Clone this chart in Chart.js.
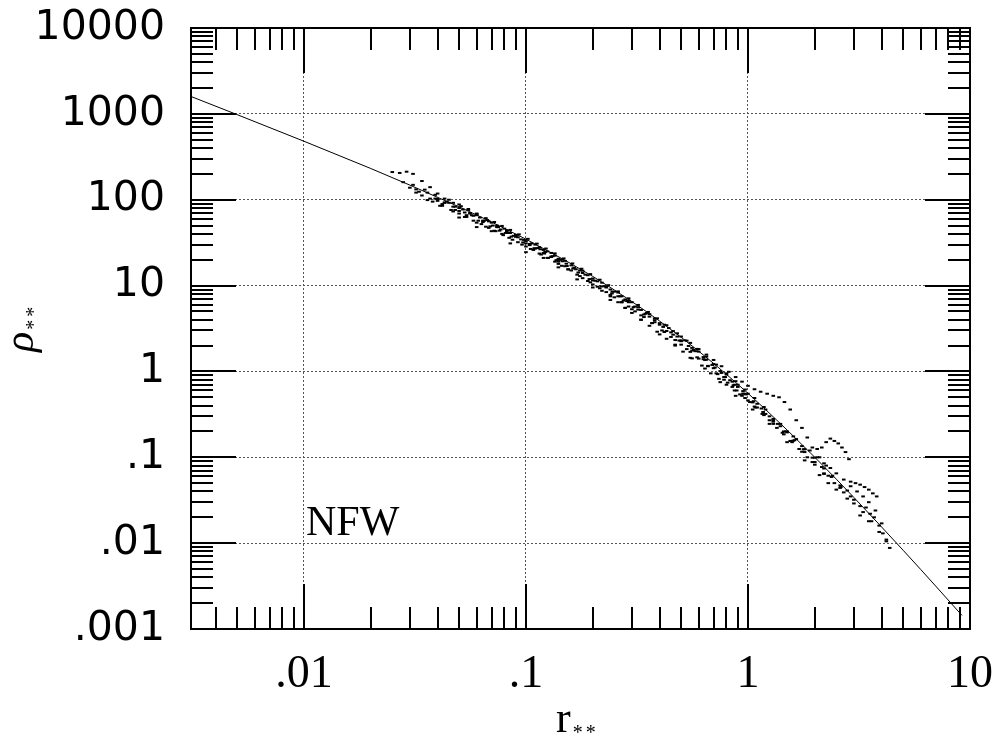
<!DOCTYPE html>
<html>
<head>
<meta charset="utf-8">
<script src="https://cdn.jsdelivr.net/npm/chart.js@4.4.1/dist/chart.umd.min.js"></script>
<style>
  body { margin: 0; background: #fff; }
  #wrap { width: 1002px; height: 740px; }
</style>
</head>
<body>
<div id="wrap"><canvas id="profileChart" width="1002" height="740"></canvas></div>
<script>
// Axis ticks
const xTickValues = [0.01, 0.1, 1, 10];
const xTickLabels = [".01", ".1", "1", "10"];
const yTickValues = [0.001, 0.01, 0.1, 1, 10, 100, 1000, 10000];
const yTickLabels = [".001", ".01", ".1", "1", "10", "100", "1000", "10000"];

// NFW fit curve
const nfwR   = [0.0031, 0.005, 0.01, 0.02, 0.03, 0.05, 0.07, 0.1, 0.15, 0.2, 0.25, 0.3, 0.35, 0.4, 0.5, 0.6, 0.7, 0.85, 1, 1.2, 1.5, 2, 2.5, 3, 4, 5, 6, 7, 9.2];
const nfwRho = [1593, 980, 480, 231, 148, 82.6, 55, 34.7, 19.7, 12.8, 8.89, 6.51, 4.94, 3.86, 2.5, 1.72, 1.24, 0.807, 0.556, 0.36, 0.208, 0.1, 0.0556, 0.034, 0.0154, 0.00826, 0.00493, 0.00317, 0.00144];

// Halo profiles (scattered dots)
const halo1R   = [0.028, 0.032, 0.036, 0.04, 0.044, 0.048, 0.052, 0.056, 0.06, 0.065, 0.07, 0.075, 0.08, 0.085, 0.09, 0.1, 0.11, 0.12, 0.13, 0.14, 0.15, 0.165, 0.18, 0.2, 0.22, 0.24, 0.26, 0.28, 0.3, 0.33, 0.36, 0.4, 0.44, 0.48, 0.52, 0.56, 0.6, 0.65, 0.7, 0.75, 0.8, 0.85, 0.9, 0.95, 1.0, 1.1, 1.2, 1.3, 1.4, 1.5, 1.65, 1.8, 2.0, 2.2, 2.4, 2.6, 2.8, 3.0];
const halo1Rho = [160, 132, 121, 102, 95, 83, 77, 69, 66, 57, 54, 48, 46, 41, 39, 33, 30, 26, 24, 20.5, 19.4, 16.2, 14.9, 12.1, 10.8, 9.0, 8.3, 6.9, 6.4, 5.2, 4.65, 3.65, 3.2, 2.55, 2.3, 1.88, 1.7, 1.37, 1.22, 1.01, 0.92, 0.76, 0.7, 0.59, 0.55, 0.42, 0.36, 0.28, 0.245, 0.195, 0.163, 0.124, 0.099, 0.074, 0.061, 0.047, 0.041, 0.032];

const halo2R   = [0.034, 0.038, 0.042, 0.046, 0.05, 0.054, 0.058, 0.063, 0.068, 0.073, 0.078, 0.084, 0.092, 0.1, 0.108, 0.117, 0.126, 0.135, 0.145, 0.155, 0.17, 0.19, 0.21, 0.23, 0.25, 0.27, 0.29, 0.31, 0.34, 0.37, 0.41, 0.45, 0.5, 0.55, 0.6, 0.66, 0.72, 0.78, 0.85, 0.92, 1.0, 1.08, 1.16, 1.25, 1.35, 1.45, 1.55, 1.7, 1.85, 2.0, 2.2, 2.45, 2.7, 3.0, 3.3, 3.6, 3.9, 4.2];
const halo2Rho = [112, 95, 85, 76, 69, 63, 57, 52, 47, 43, 40, 36, 32, 28.5, 26, 23, 21, 19, 17, 15.5, 13.4, 11.3, 9.7, 8.4, 7.3, 6.4, 5.7, 5.0, 4.3, 3.65, 3.0, 2.52, 2.05, 1.69, 1.41, 1.15, 0.95, 0.8, 0.66, 0.54, 0.46, 0.38, 0.32, 0.27, 0.22, 0.185, 0.155, 0.125, 0.1, 0.082, 0.065, 0.05, 0.039, 0.029, 0.023, 0.018, 0.0135, 0.0105];

const halo3R   = [0.025, 0.027, 0.029, 0.031, 0.034, 0.037, 0.04, 0.045, 0.05, 0.055, 0.06, 0.067, 0.074, 0.082, 0.09, 0.1, 0.11, 0.12, 0.13, 0.14, 0.15, 0.16, 0.18, 0.2, 0.22, 0.24, 0.26, 0.28, 0.3, 0.33, 0.36, 0.39, 0.43, 0.47, 0.51, 0.56, 0.62, 0.68, 0.74, 0.8, 0.87, 0.94, 1.02, 1.1, 1.2, 1.3, 1.4, 1.5, 1.6, 1.75, 1.9, 2.05, 2.2, 2.35, 2.5, 2.7, 2.9, 3.1, 3.3, 3.5, 3.75, 4.0];
const halo3Rho = [210, 205, 212, 200, 165, 140, 118, 100, 88, 78, 68, 58, 50, 43, 37, 31, 27, 24, 21.5, 19, 16.8, 15, 12.2, 10.3, 8.7, 7.5, 6.4, 5.5, 4.8, 4.0, 3.4, 2.9, 2.4, 2.0, 1.7, 1.42, 1.17, 0.95, 0.82, 0.7, 0.6, 0.52, 0.44, 0.38, 0.32, 0.27, 0.23, 0.2, 0.175, 0.135, 0.12, 0.1, 0.085, 0.075, 0.065, 0.055, 0.046, 0.04, 0.035, 0.03, 0.024, 0.017];

const halo4R   = [0.045, 0.05, 0.056, 0.062, 0.068, 0.075, 0.082, 0.09, 0.098, 0.106, 0.115, 0.125, 0.135, 0.145, 0.16, 0.175, 0.19, 0.21, 0.23, 0.25, 0.27, 0.29, 0.32, 0.35, 0.38, 0.42, 0.46, 0.5, 0.55, 0.6, 0.65, 0.7, 0.76, 0.82, 0.88, 0.94, 1.0, 1.07, 1.14, 1.22, 1.3, 1.38, 1.46, 1.55, 1.65, 1.75, 1.85, 1.95, 2.1, 2.25];
const halo4Rho = [92, 80, 70, 62, 56, 48, 44, 38, 34, 31, 28, 25, 22.3, 20.2, 17.2, 15, 13.2, 11.2, 9.8, 8.5, 7.5, 6.7, 5.6, 4.8, 4.15, 3.5, 2.95, 2.55, 2.15, 1.82, 1.57, 1.36, 1.15, 0.99, 0.86, 0.76, 0.68, 0.62, 0.58, 0.55, 0.52, 0.5, 0.44, 0.36, 0.27, 0.22, 0.17, 0.13, 0.1, 0.08];

const halo5R   = [2.05, 2.15, 2.25, 2.35, 2.45, 2.55, 2.65, 2.75, 2.85, 2.9, 3.05, 3.2, 3.35, 3.5, 3.65, 3.8, 3.4, 3.55, 3.7, 3.9, 4.05, 4.2, 4.35];
const halo5Rho = [0.125, 0.13, 0.15, 0.165, 0.155, 0.145, 0.13, 0.115, 0.095, 0.052, 0.05, 0.048, 0.045, 0.042, 0.038, 0.035, 0.026, 0.022, 0.02, 0.016, 0.013, 0.011, 0.0088];

const halo6R   = [0.05, 0.06, 0.07, 0.085, 0.1, 0.12, 0.14, 0.17, 0.2, 0.24, 0.28, 0.33, 0.4, 0.47, 0.55, 0.64, 0.75, 0.88, 1.05, 1.25, 1.5, 1.8, 2.1, 2.3, 2.5, 2.8, 3.2, 3.5];
const halo6Rho = [62, 48, 43, 31, 24.5, 21, 16.3, 11.8, 9.5, 6.8, 5.5, 4.0, 2.7, 2.05, 1.44, 1.08, 0.75, 0.52, 0.36, 0.245, 0.15, 0.092, 0.062, 0.05, 0.042, 0.033, 0.021, 0.018];

const halo7R   = [0.03, 0.033, 0.039, 0.043, 0.047, 0.053, 0.057, 0.064, 0.071, 0.077, 0.083, 0.088, 0.095, 0.104, 0.113, 0.122, 0.132, 0.142, 0.152, 0.168, 0.185, 0.205, 0.225, 0.245, 0.265, 0.285, 0.31, 0.345, 0.38, 0.415, 0.46, 0.5, 0.54, 0.58, 0.63, 0.69, 0.76, 0.83, 0.9, 0.98, 1.06, 1.15, 1.25, 1.36, 1.48, 1.62, 1.78, 1.95, 2.15, 2.38, 2.62, 2.9, 3.2];
const halo7Rho = [138, 124, 103, 92, 83, 71, 66, 57, 50, 45, 41, 38, 34.5, 30.5, 27.3, 24.6, 22, 19.9, 18, 15.5, 13.4, 11.4, 9.8, 8.5, 7.5, 6.6, 5.7, 4.7, 3.95, 3.3, 2.68, 2.3, 1.98, 1.72, 1.47, 1.19, 0.96, 0.79, 0.66, 0.54, 0.45, 0.37, 0.3, 0.245, 0.2, 0.158, 0.124, 0.099, 0.077, 0.059, 0.045, 0.035, 0.027];

const halo8R   = [0.036, 0.041, 0.047, 0.053, 0.06, 0.066, 0.072, 0.079, 0.087, 0.096, 0.105, 0.115, 0.125, 0.14, 0.155, 0.175, 0.195, 0.215, 0.24, 0.27, 0.3, 0.33, 0.37, 0.42, 0.47, 0.53, 0.59, 0.66, 0.73, 0.81, 0.89, 0.97, 1.07, 1.18, 1.3, 1.43, 1.58, 1.75, 1.95, 2.2];
const halo8Rho = [99, 85, 73, 63, 54, 48.5, 43.5, 38.7, 34.2, 30, 26.7, 23.6, 21, 17.9, 15.4, 12.9, 10.9, 9.3, 7.8, 6.4, 5.3, 4.5, 3.66, 2.88, 2.32, 1.82, 1.46, 1.16, 0.93, 0.74, 0.6, 0.49, 0.39, 0.31, 0.245, 0.193, 0.15, 0.116, 0.088, 0.064];

const halo9R   = [0.031, 0.035, 0.039, 0.043, 0.047, 0.051, 0.055, 0.06, 0.066, 0.072, 0.078, 0.085, 0.093, 0.102, 0.112, 0.123, 0.135, 0.148, 0.162, 0.178, 0.195, 0.215, 0.235, 0.26, 0.29, 0.32, 0.355, 0.39, 0.43, 0.48, 0.53, 0.59, 0.65, 0.72, 0.8, 0.88, 0.97, 1.07, 1.18];
const halo9Rho = [149, 131, 114, 103, 92, 84, 76, 69, 61, 55, 49.5, 44.5, 39.5, 35, 30.8, 27, 23.7, 20.7, 18.1, 15.7, 13.6, 11.7, 10.1, 8.55, 7.1, 5.95, 4.93, 4.15, 3.45, 2.78, 2.28, 1.83, 1.49, 1.2, 0.95, 0.77, 0.615, 0.49, 0.385];

const halo10R   = [0.032, 0.037, 0.042, 0.048, 0.054, 0.061, 0.069, 0.076, 0.086, 0.097, 0.109, 0.121, 0.137, 0.153, 0.172, 0.193, 0.218, 0.244, 0.275, 0.305, 0.34, 0.38, 0.43, 0.49, 0.56, 0.63, 0.7, 0.78, 0.86, 0.95, 1.05, 1.17, 1.3, 1.45, 1.6, 1.8, 2.0, 2.3, 2.6];
const halo10Rho = [121, 103, 89, 76, 66, 57, 49, 43.6, 37.2, 31.8, 27.2, 23.6, 19.8, 16.9, 14.2, 11.9, 9.8, 8.1, 6.7, 5.6, 4.6, 3.74, 2.96, 2.29, 1.75, 1.39, 1.09, 0.86, 0.69, 0.55, 0.436, 0.337, 0.26, 0.2, 0.156, 0.115, 0.088, 0.061, 0.044];

const halo11R   = [0.04, 0.043, 0.05, 0.058, 0.064, 0.074, 0.081, 0.092, 0.104, 0.116, 0.13, 0.146, 0.163, 0.18, 0.2, 0.23, 0.26, 0.29, 0.32, 0.36, 0.4, 0.45, 0.5, 0.57, 0.64, 0.71, 0.79, 0.87, 0.96];
const halo11Rho = [97, 93, 74, 65, 55, 48, 41, 36.5, 29.6, 26.5, 21.8, 19.2, 15.8, 14, 11.5, 9.5, 7.5, 6.4, 5.25, 4.35, 3.5, 2.85, 2.25, 1.78, 1.36, 1.11, 0.86, 0.7, 0.55];

const halos = [
  [halo1R, halo1Rho], [halo2R, halo2Rho], [halo3R, halo3Rho],
  [halo4R, halo4Rho], [halo5R, halo5Rho], [halo6R, halo6Rho],
  [halo7R, halo7Rho], [halo8R, halo8Rho], [halo9R, halo9Rho],
  [halo10R, halo10Rho], [halo11R, halo11Rho],
];

const toPoints = (rs, rhos) => rs.map((r, i) => ({ x: r, y: rhos[i] }));

// dotted halo points drawn as tiny dashes
const haloSets = halos.map(([rs, rhos]) => ({
  data: toPoints(rs, rhos),
  showLine: false,
  pointStyle: "line",
  pointRadius: 1.8,
  pointBorderWidth: 2,
  pointBorderColor: "#000",
  pointBackgroundColor: "#000",
}));

// draw text with a small subscript "**"
function drawSubLabel(ctx, main, sub, mainFont, subFont, shift) {
  ctx.font = mainFont;
  ctx.fillText(main, 0, 0);
  const w = ctx.measureText(main).width;
  ctx.font = subFont;
  ctx.letterSpacing = "3px";
  ctx.fillText(sub, w + 2, shift);
  ctx.letterSpacing = "0px";
}

// Frame, inward log ticks and labels
const framePlugin = {
  id: "framePlugin",
  afterDatasetsDraw(chart) {
    const { ctx, chartArea: a, scales: { x, y } } = chart;
    ctx.save();
    ctx.strokeStyle = "#000";
    ctx.lineWidth = 2;
    ctx.beginPath();
    for (let e = -3; e <= 4; e++) {
      for (let k = 1; k <= 9; k++) {
        const v = k * Math.pow(10, e);
        const len = k === 1 ? 45 : 22;
        if (v >= x.min * 0.999 && v <= x.max * 1.001) {
          const px = Math.round(x.getPixelForValue(v));
          ctx.moveTo(px, a.bottom); ctx.lineTo(px, a.bottom - len);
          ctx.moveTo(px, a.top); ctx.lineTo(px, a.top + len);
        }
        if (v >= y.min * 0.999 && v <= y.max * 1.001) {
          const py = Math.round(y.getPixelForValue(v));
          ctx.moveTo(a.left, py); ctx.lineTo(a.left + len, py);
          ctx.moveTo(a.right, py); ctx.lineTo(a.right - len, py);
        }
      }
    }
    ctx.stroke();
    ctx.strokeRect(a.left, a.top, a.right - a.left, a.bottom - a.top);

    ctx.fillStyle = "#000";
    ctx.textBaseline = "alphabetic";
    ctx.font = '42px "Liberation Serif"';
    ctx.fillText("NFW", 306, 535);

    // x title
    ctx.save();
    ctx.translate(556, 732);
    drawSubLabel(ctx, "r", "**", '44px "Liberation Serif"', '20px "Liberation Serif"', 7);
    ctx.restore();

    // y title
    ctx.save();
    ctx.translate(33, 352);
    ctx.rotate(-Math.PI / 2);
    drawSubLabel(ctx, "\u03c1", "**", 'italic 42px "Liberation Serif"', '20px "Liberation Serif"', 7);
    ctx.restore();
    ctx.restore();
  },
};

new Chart(document.getElementById("profileChart"), {
  type: "scatter",
  data: {
    datasets: [
      {
        data: toPoints(nfwR, nfwRho),
        showLine: true,
        pointRadius: 0,
        borderColor: "#000",
        borderWidth: 1,
        tension: 0,
      },
      ...haloSets,
    ],
  },
  options: {
    responsive: false,
    animation: false,
    events: [],
    layout: { padding: { left: 0, top: 28, right: 32, bottom: 0 } },
    plugins: { legend: { display: false }, tooltip: { enabled: false } },
    scales: {
      x: {
        type: "logarithmic",
        min: 0.0031,
        max: 10,
        afterBuildTicks: (scale) => {
          scale.ticks = xTickValues.map((v) => ({ value: v }));
        },
        afterFit: (scale) => {
          scale.height = 111;
          scale.paddingLeft = 0;
          scale.paddingRight = 0;
        },
        grid: { color: "#555", lineWidth: 1, drawTicks: false },
        border: { display: false, dash: [2, 2] },
        ticks: {
          autoSkip: false,
          maxRotation: 0,
          padding: 18,
          color: "#000",
          font: { family: "Liberation Serif", size: 46 },
          callback: (value, index) => xTickLabels[index],
        },
      },
      y: {
        type: "logarithmic",
        min: 0.001,
        max: 10000,
        afterBuildTicks: (scale) => {
          scale.ticks = yTickValues.map((v) => ({ value: v }));
        },
        afterFit: (scale) => {
          scale.width = 191;
          scale.paddingTop = 0;
          scale.paddingBottom = 0;
        },
        grid: { color: "#555", lineWidth: 1, drawTicks: false },
        border: { display: false, dash: [2, 2] },
        ticks: {
          autoSkip: false,
          padding: 26,
          color: "#000",
          font: { family: "DejaVu Sans", size: 41 },
          callback: (value, index) => yTickLabels[index],
        },
      },
    },
  },
  plugins: [framePlugin],
});
</script>
</body>
</html>
